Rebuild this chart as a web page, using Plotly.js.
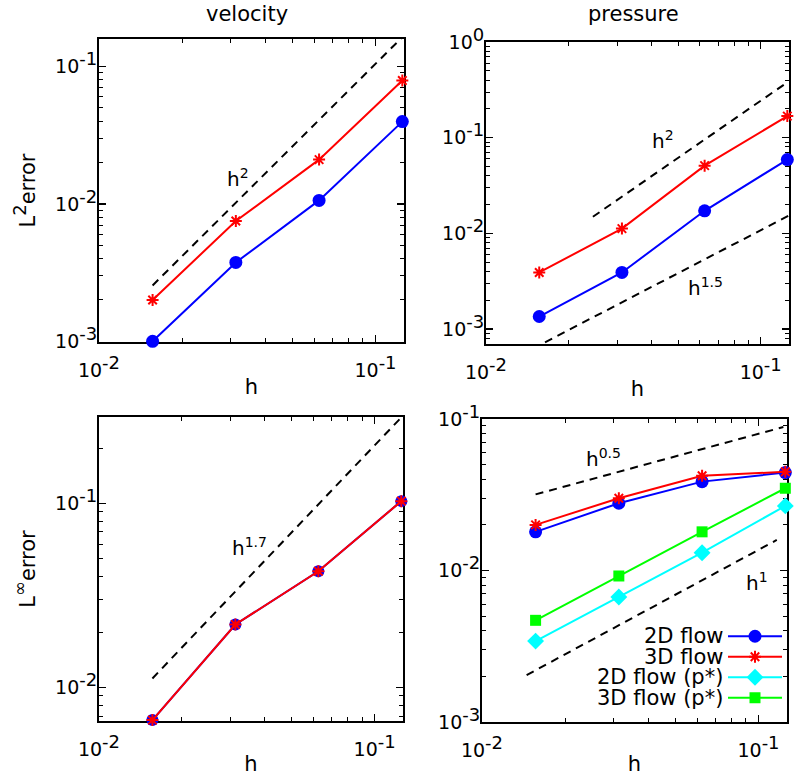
<!DOCTYPE html>
<html><head><meta charset="utf-8">
<script src="https://cdn.plot.ly/plotly-3.0.1.min.js"></script>
<style>html,body{margin:0;padding:0;background:#fff;} #chart{width:800px;height:776px;}</style>
</head><body><div id="chart"></div>
<script>
// ---- data ----
const h = [0.015625, 0.03125, 0.0625, 0.125];

const velL2_2D = [1.0e-3, 3.75e-3, 1.06e-2, 3.97e-2];
const velL2_3D = [2.0e-3, 7.5e-3, 2.1e-2, 7.9e-2];
const preL2_2D = [1.35e-3, 3.9e-3, 1.72e-2, 5.9e-2];
const preL2_3D = [3.9e-3, 1.12e-2, 5.1e-2, 1.68e-1];
const velLinf_2D = [6.65e-3, 2.2e-2, 4.28e-2, 1.03e-1];
const velLinf_3D = [6.65e-3, 2.2e-2, 4.28e-2, 1.03e-1];
const preLinf_2D = [1.8e-2, 2.78e-2, 3.86e-2, 4.43e-2];
const preLinf_3D = [2.0e-2, 3.0e-2, 4.22e-2, 4.48e-2];
const preLinf_2Dp = [3.42e-3, 6.68e-3, 1.31e-2, 2.67e-2];
const preLinf_3Dp = [4.69e-3, 9.2e-3, 1.8e-2, 3.49e-2];

// reference slope lines (end points)
const g1_h2_x = [0.015625, 0.126], g1_h2_y = [2.55e-3, 0.166];
const g2_h2_x = [0.0245, 0.126], g2_h2_y = [0.0149, 0.385];
const g2_h15_x = [0.0164, 0.126], g2_h15_y = [7.26e-4, 0.0152];
const g3_h17_x = [0.015625, 0.124], g3_h17_y = [0.0112, 0.29];
const g4_h05_x = [0.015625, 0.123], g4_h05_y = [0.0318, 0.0885];
const g4_h1_x = [0.0145, 0.1164], g4_h1_y = [2.04e-3, 0.0159];

const seriesNames = ['2D flow', '3D flow', '2D flow (p*)', '3D flow (p*)'];
const colTitles = ['velocity', 'pressure'];
const SUPB = '<sup><span style="font-size:18px">';
const SUPE = '</span></sup>';
const yTitles = ['L' + SUPB + '2' + SUPE + 'error', 'L' + SUPB + '∞' + SUPE + 'error'];
const xTitle = 'h';
const xTickVals = [0.01, 0.1];
const xTickText = ['10' + SUPB + '-2' + SUPE, '10' + SUPB + '-1' + SUPE];
const yTickVals = [1, 0.1, 0.01, 0.001];
const yTickText = ['10' + SUPB + '0' + SUPE, '10' + SUPB + '-1' + SUPE, '10' + SUPB + '-2' + SUPE, '10' + SUPB + '-3' + SUPE];

// ---- styling ----
const FONT = 'DejaVu Sans';
const BLUE = '#0000ff', RED = '#ff0000', CYAN = '#00ffff', GREEN = '#00ff00';
const minorVals = [];
for (let d = -5; d <= 0; d++) for (let k = 2; k <= 9; k++) minorVals.push(k * Math.pow(10, d));

const W = 800, H = 776;
const dx = (a, b) => [a / W, b / W];
const dy = (top, bot) => [1 - bot / H, 1 - top / H];

function axisBase(extra) {
  return Object.assign({
    type: 'log', showline: true, linecolor: '#000', linewidth: 2, mirror: 'allticks',
    ticks: 'inside', ticklen: 7, tickwidth: 1.5, tickcolor: '#000',
    minor: {ticks: 'inside', ticklen: 4, tickwidth: 1, tickcolor: '#000', tickmode: 'array', tickvals: minorVals},
    showgrid: false, zeroline: false, layer: 'below traces',
    tickfont: {family: FONT, size: 19, color: '#000'}, tickmode: 'array'
  }, extra);
}
function xA(dom, anchor) {
  return axisBase({domain: dom, anchor: anchor, range: [-2, -0.897], tickvals: xTickVals, ticktext: xTickText,
    ticklabelstandoff: 10,
    title: {text: xTitle, font: {family: FONT, size: 21, color: '#000'}, standoff: 0}});
}
function yA(dom, anchor, range, title) {
  return axisBase({domain: dom, anchor: anchor, range: range, tickvals: yTickVals, ticktext: yTickText,
    ticklabelstandoff: -4,
    title: title ? {text: title, font: {family: FONT, size: 21, color: '#000'}, standoff: 14} : undefined});
}

const traces = [];
function line(x, y, color, sym, size, xa, ya, name) {
  const mk = {color: color, size: size, symbol: sym};
  if (sym === 'asterisk') mk.line = {color: color, width: 2};
  traces.push({x: x, y: y, mode: 'lines+markers', xaxis: xa, yaxis: ya, name: name, showlegend: false,
    line: {color: color, width: 2}, marker: mk, cliponaxis: false});
}
function guide(x, y, xa, ya) {
  traces.push({x: x, y: y, mode: 'lines', xaxis: xa, yaxis: ya, showlegend: false,
    line: {color: '#000', width: 2, dash: '8px,6px'}});
}

// panel 1
guide(g1_h2_x, g1_h2_y, 'x', 'y');
line(h, velL2_2D, BLUE, 'circle', 13, 'x', 'y', seriesNames[0]);
line(h, velL2_3D, RED, 'asterisk', 10, 'x', 'y', seriesNames[1]);
// panel 2
guide(g2_h2_x, g2_h2_y, 'x2', 'y2');
guide(g2_h15_x, g2_h15_y, 'x2', 'y2');
line(h, preL2_2D, BLUE, 'circle', 13, 'x2', 'y2', seriesNames[0]);
line(h, preL2_3D, RED, 'asterisk', 10, 'x2', 'y2', seriesNames[1]);
// panel 3
guide(g3_h17_x, g3_h17_y, 'x3', 'y3');
line(h, velLinf_2D, BLUE, 'circle', 12, 'x3', 'y3', seriesNames[0]);
line(h, velLinf_3D, RED, 'asterisk', 10, 'x3', 'y3', seriesNames[1]);
// panel 4
guide(g4_h05_x, g4_h05_y, 'x4', 'y4');
guide(g4_h1_x, g4_h1_y, 'x4', 'y4');
line(h, preLinf_2D, BLUE, 'circle', 13, 'x4', 'y4', seriesNames[0]);
line(h, preLinf_3D, RED, 'asterisk', 10, 'x4', 'y4', seriesNames[1]);
line(h, preLinf_2Dp, CYAN, 'diamond', 13, 'x4', 'y4', seriesNames[2]);
line(h, preLinf_3Dp, GREEN, 'square', 11, 'x4', 'y4', seriesNames[3]);

// custom legend (text left of sample, as in the reference)
const legColors = [BLUE, RED, CYAN, GREEN];
const legSyms = ['circle', 'asterisk', 'diamond', 'square'];
const legSizes = [13, 10, 13, 11];
const legTop = 626, legBot = 708, legRow = (legBot - legTop) / 4;
const legendAnn = [];
seriesNames.forEach((nm, i) => {
  traces.push({x: [0, 1], y: [i + 1, i + 1], mode: 'lines', xaxis: 'x5', yaxis: 'y5', showlegend: false,
    line: {color: legColors[i], width: 2}, hoverinfo: 'skip'});
  const mk = {color: legColors[i], size: legSizes[i], symbol: legSyms[i]};
  if (legSyms[i] === 'asterisk') mk.line = {color: legColors[i], width: 2};
  traces.push({x: [0.5], y: [i + 1], mode: 'markers', xaxis: 'x5', yaxis: 'y5', showlegend: false,
    marker: mk, cliponaxis: false, hoverinfo: 'skip'});
  legendAnn.push({xref: 'paper', yref: 'paper', x: 725 / W, y: 1 - (legTop + legRow * (i + 0.5)) / H, text: nm, showarrow: false,
    xanchor: 'right', yanchor: 'middle', font: {family: FONT, size: 21, color: '#000'}});
});

const labFont = {family: FONT, size: 20, color: '#000'};
function lab(xref, yref, x, y, text) {
  return {xref: xref, yref: yref, x: x, y: y, text: text, showarrow: false, xanchor: 'center', yanchor: 'middle', font: labFont};
}

const layout = {
  width: W, height: H, margin: {l: 0, r: 0, t: 0, b: 0},
  paper_bgcolor: '#fff', plot_bgcolor: '#fff', showlegend: false,
  font: {family: FONT, color: '#000'},
  xaxis: xA(dx(99, 404), 'y'),
  yaxis: yA(dy(39, 342), 'x', [-3.005, -0.80], yTitles[0]),
  xaxis2: xA(dx(486, 789), 'y2'),
  yaxis2: yA(dy(42, 344), 'x2', [-3.157, 0], null),
  xaxis3: xA(dx(99, 403), 'y3'),
  yaxis3: yA(dy(417, 721), 'x3', [-2.182, -0.53], yTitles[1]),
  xaxis4: xA(dx(482, 787), 'y4'),
  yaxis4: yA(dy(419, 722), 'x4', [-3, -1], null),
  xaxis5: {domain: dx(728, 782), anchor: 'y5', range: [0, 1], visible: false, fixedrange: true},
  yaxis5: {domain: dy(legTop, legBot), anchor: 'x5', range: [4.5, 0.5], visible: false, fixedrange: true},
  annotations: [
    {xref: 'paper', yref: 'paper', x: 247 / W, y: 1 - 14 / H, text: colTitles[0], showarrow: false, xanchor: 'center', yanchor: 'middle', font: {family: FONT, size: 21, color: '#000'}},
    {xref: 'paper', yref: 'paper', x: 633 / W, y: 1 - 14 / H, text: colTitles[1], showarrow: false, xanchor: 'center', yanchor: 'middle', font: {family: FONT, size: 21, color: '#000'}},
    lab('x', 'y', -1.498, -1.81, 'h<sup>2</sup>'),
    lab('x2', 'y2', -1.354, -1.024, 'h<sup>2</sup>'),
    lab('x2', 'y2', -1.20, -2.561, 'h<sup>1.5</sup>'),
    lab('x3', 'y3', -1.455, -1.239, 'h<sup>1.7</sup>'),
    lab('x4', 'y4', -1.562, -1.256, 'h<sup>0.5</sup>'),
    lab('x4', 'y4', -1.004, -2.075, 'h<sup>1</sup>')
  ].concat(legendAnn)
};

Plotly.newPlot('chart', traces, layout, {staticPlot: true, displayModeBar: false});
</script>
</body></html>
